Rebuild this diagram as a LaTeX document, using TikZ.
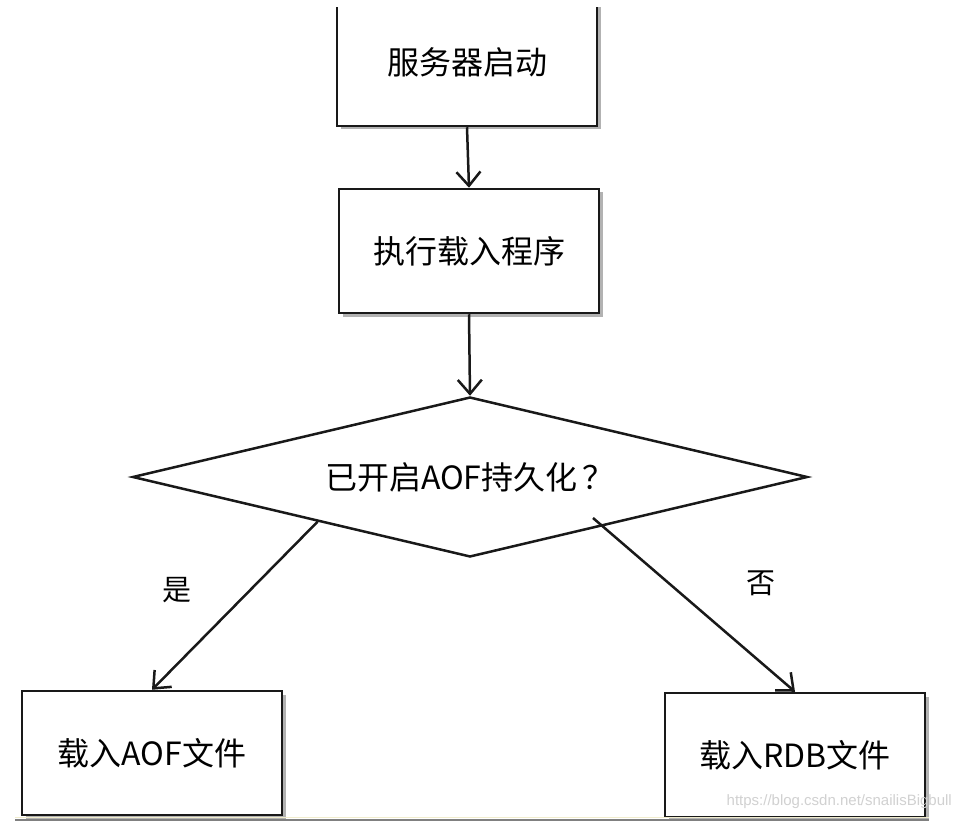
\documentclass[tikz,border=0pt]{standalone}
\usepackage{fontspec}
\setmainfont{Noto Sans CJK SC}
\newfontfamily\wmfont{Liberation Sans}
\usetikzlibrary{shapes.geometric,arrows.meta,shadows,calc}
\begin{document}
\begin{tikzpicture}[x=1pt,y=-1pt,
  box/.style={draw=black!90,line width=2.5pt,fill=white,minimum width=260pt,inner sep=0pt,
     drop shadow={shadow xshift=3.5pt,shadow yshift=-3.5pt,fill=black,opacity=0.3}},
  dec/.style={draw=black!90,line width=2.5pt,shape=diamond,aspect=4.2,minimum width=675pt,minimum height=160pt,inner sep=0pt,fill=white},
  arr/.style={draw=black!90,line width=2.5pt,-{Straight Barb[length=14pt,width=24pt,line width=2.5pt]}},
  branchlabel/.style={font=\fontsize{29}{34}\selectfont},
  every node/.append style={font=\fontsize{32}{38}\selectfont}]
\useasboundingbox (0,0) rectangle (961,821);
\fill[white] (0,0) rectangle (961,821);
\begin{scope}
\clip (0,8) rectangle (961,821);
\node[box,minimum height=128pt] (start) at (467,62) {服务器启动};
\end{scope}
\node[box,minimum height=124pt] (load) at (469,251) {执行载入程序};
\node[dec] (q) at (470,477) {已开启AOF持久化\,？};
\node[box,minimum height=124pt] (aof) at (152,753) {载入AOF文件};
\node[box,minimum height=124pt] (rdb) at (795,755) {载入RDB文件};
\coordinate (yesstart) at ($(q.west)!0.55!(q.south)$);
\coordinate (nostart) at (593,518);
\draw[arr] (start.south) -- (load.north);
\draw[arr] (load.south) -- (q.north);
\draw[arr] (yesstart) -- (aof.north);
\draw[arr] (nostart) -- (rdb.north);
\node[branchlabel] (yes) at (177,590) {是};
\node[branchlabel] (no) at (761,583) {否};
\draw[line width=1pt,color={rgb,255:red,240;green,236;blue,205}] (15,817) -- (929,817);
\draw[line width=2pt,black!50] (15,819.5) -- (929,819.5);
\node[anchor=east,text=black!18,inner sep=0pt,font=\wmfont\fontsize{15}{18}\selectfont] (wm) at (952,802) {https://blog.csdn.net/snailisBigbull};
\end{tikzpicture}
\end{document}
